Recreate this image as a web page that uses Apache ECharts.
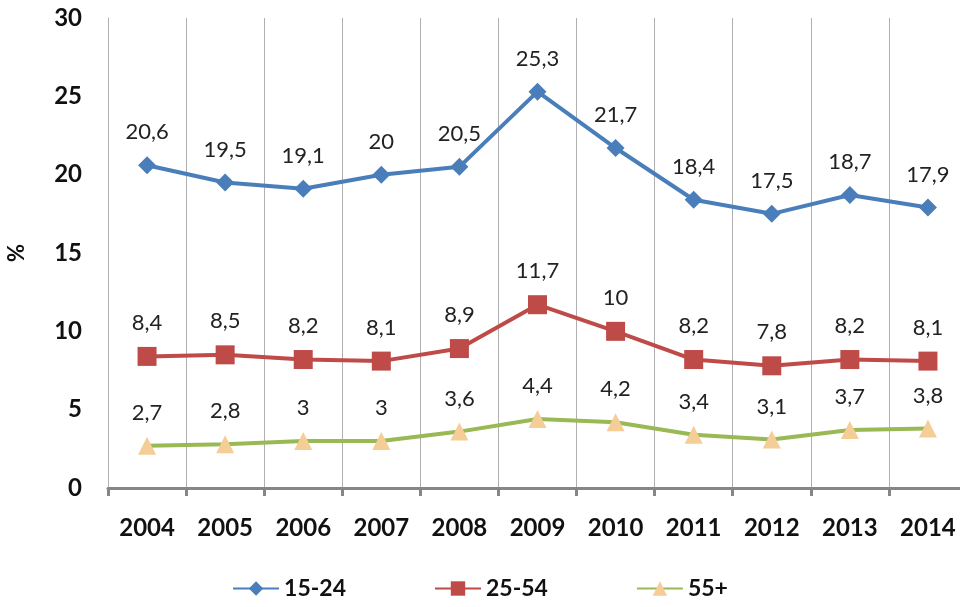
<!DOCTYPE html>
<html><head><meta charset="utf-8">
<script src="https://cdn.jsdelivr.net/npm/echarts@6/dist/echarts.min.js"></script>
<style>html,body{margin:0;padding:0;background:#fff}#c{width:960px;height:607px}</style>
</head><body><div id="c"></div>
<script>
var years = ['2004','2005','2006','2007','2008','2009','2010','2011','2012','2013','2014'];
var s1524 = [20.6,19.5,19.1,20,20.5,25.3,21.7,18.4,17.5,18.7,17.9];
var s2554 = [8.4,8.5,8.2,8.1,8.9,11.7,10,8.2,7.8,8.2,8.1];
var s55 = [2.7,2.8,3,3,3.6,4.4,4.2,3.4,3.1,3.7,3.8];
var names = ['15-24','25-54','55+'];
var yTicks = [0,5,10,15,20,25,30];

var chart = echarts.init(document.getElementById('c'), null, {renderer:'canvas'});
var FONT = 'Lato';
function lbl(){
  return {show:true, position:'top', distance:13, color:'#222', fontFamily:FONT, fontSize:22,
    formatter:function(p){return String(p.value).replace('.',',');}};
}
chart.setOption({
  animation:false,
  grid:{left:108, top:18, width:859, height:470, outerBoundsMode:'none', containLabel:false},
  legend:{bottom:2, left:'center', itemWidth:46, itemHeight:18, itemGap:88,
    textStyle:{fontFamily:FONT, fontWeight:'bold', fontSize:23, color:'#111'},
    data:names},
  xAxis:{type:'category', data:years, boundaryGap:true,
    axisLine:{lineStyle:{color:'#868686', width:3}},
    axisTick:{show:true, length:8, lineStyle:{color:'#868686', width:3}},
    splitLine:{show:true, lineStyle:{color:'#AFAFAF', width:1}},
    axisLabel:{margin:28, fontFamily:FONT, fontWeight:'bold', fontSize:24, color:'#111'}},
  yAxis:{type:'value', min:0, max:30, interval:5, name:'%', nameLocation:'middle', nameGap:80, nameRotate:90,
    nameTextStyle:{fontFamily:FONT, fontWeight:'bold', fontSize:22, color:'#111'},
    axisLine:{show:true, lineStyle:{color:'#AFAFAF', width:1}},
    axisTick:{show:false},
    splitLine:{show:false},
    axisLabel:{margin:26, fontFamily:FONT, fontWeight:'bold', fontSize:24, color:'#111',
      formatter:function(v){return yTicks.indexOf(v)>=0?String(v):'';}}},
  series:[
    {name:names[0], type:'line', data:s1524, symbol:'diamond', symbolSize:18,
      lineStyle:{color:'#4A7EBB', width:4}, itemStyle:{color:'#4A7EBB'}, label:lbl()},
    {name:names[1], type:'line', data:s2554, symbol:'rect', symbolSize:19,
      lineStyle:{color:'#BE4B48', width:4}, itemStyle:{color:'#BE4B48'}, label:lbl()},
    {name:names[2], type:'line', data:s55, symbol:'triangle', symbolSize:18,
      lineStyle:{color:'#98B954', width:4}, itemStyle:{color:'#F5CD96'}, label:lbl()}
  ]
});
</script></body></html>
